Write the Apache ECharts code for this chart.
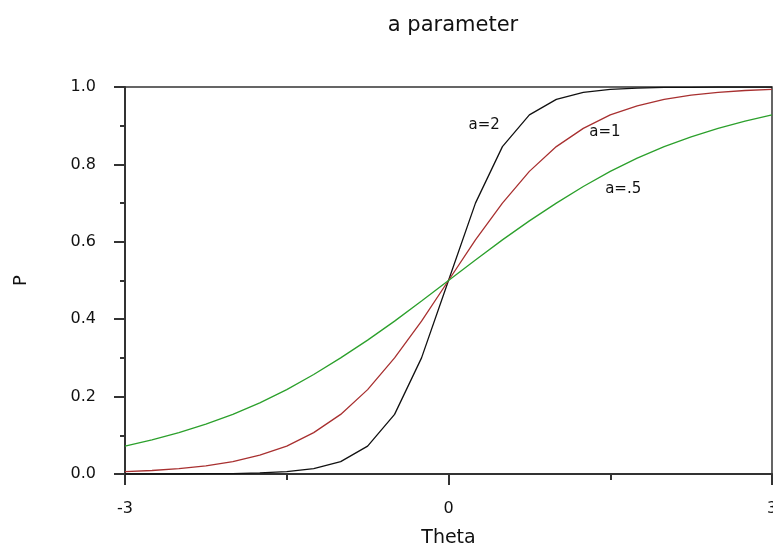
<!DOCTYPE html>
<html lang="en">
<head>
    <meta charset="UTF-8">
    <title>a parameter</title>
    <script type="text/javascript" src="https://cdn.jsdelivr.net/npm/echarts@6/dist/echarts.min.js"></script>
    <style>
        html, body { margin: 0; padding: 0; background: #fff; }
    </style>
</head>
<body>
<div id="main" style="width:773px;height:550px;"></div>
</body>

<script>
    // theta grid and P values
    let theta = [-3, -2.75, -2.5, -2.25, -2, -1.75, -1.5, -1.25, -1, -0.75, -0.5, -0.25,
        0, 0.25, 0.5, 0.75, 1, 1.25, 1.5, 1.75, 2, 2.25, 2.5, 2.75, 3];
    let pA2 = [0.000, 0.000, 0.000, 0.001, 0.001, 0.003, 0.006, 0.014, 0.032, 0.072, 0.154, 0.300,
        0.500, 0.700, 0.846, 0.928, 0.968, 0.986, 0.994, 0.997, 0.999, 0.999, 1.000, 1.000, 1.000];
    let pA1 = [0.006, 0.009, 0.014, 0.021, 0.032, 0.049, 0.072, 0.107, 0.154, 0.218, 0.300, 0.395,
        0.500, 0.605, 0.700, 0.782, 0.846, 0.893, 0.928, 0.951, 0.968, 0.979, 0.986, 0.991, 0.994];
    let pA05 = [0.072, 0.088, 0.107, 0.129, 0.154, 0.184, 0.218, 0.257, 0.300, 0.346, 0.395, 0.447,
        0.500, 0.553, 0.605, 0.654, 0.700, 0.743, 0.782, 0.816, 0.846, 0.871, 0.893, 0.912, 0.928];
    let curveNames = ['a=2', 'a=1', 'a=.5'];
    let curveColors = ['#111111', '#a83030', '#2ca02c'];
    // where the curve labels sit, in data units
    let labelAt = [[0.33, 0.902], [1.45, 0.884], [1.62, 0.736]];

    function pairs(ys) {
        return theta.map((t, i) => [t, ys[i]]);
    }

    let myChart = echarts.init(document.getElementById('main'));
    let font = 'DejaVu Sans, Verdana, sans-serif';

    let series = [pA2, pA1, pA05].map((ys, k) => ({
        name: curveNames[k],
        type: 'line',
        data: pairs(ys),
        showSymbol: false,
        smooth: false,
        lineStyle: { color: curveColors[k], width: 1.3 },
        itemStyle: { color: curveColors[k] },
        markPoint: {
            symbol: 'circle',
            symbolSize: 0,
            data: [{ coord: labelAt[k] }],
            label: {
                show: true,
                position: 'inside',
                formatter: curveNames[k],
                color: '#111',
                fontFamily: font,
                fontSize: 15
            }
        }
    }));

    let option = {
        backgroundColor: '#fff',
        animation: false,
        title: {
            text: 'a parameter',
            left: 448,
            top: 10,
            textAlign: 'center',
            textStyle: { color: '#111', fontFamily: font, fontSize: 21, fontWeight: 'normal' }
        },
        grid: {
            left: 125, right: 1, top: 87, bottom: 76,
            containLabel: false,
            outerBoundsMode: 'none',
            show: true,
            borderColor: '#333',
            borderWidth: 1.5
        },
        xAxis: {
            type: 'value',
            min: -3, max: 3, interval: 3,
            name: 'Theta',
            nameLocation: 'middle',
            nameGap: 55,
            nameTextStyle: { color: '#111', fontFamily: font, fontSize: 19 },
            axisLine: { onZero: false, lineStyle: { color: '#333', width: 2 } },
            axisTick: { length: 11, lineStyle: { color: '#333', width: 2 } },
            minorTick: { show: true, splitNumber: 2, length: 6, lineStyle: { color: '#333', width: 2 } },
            axisLabel: { margin: 27, color: '#111', fontFamily: font, fontSize: 16, showMinLabel: true, showMaxLabel: true },
            splitLine: { show: false }
        },
        yAxis: {
            type: 'value',
            min: 0, max: 1, interval: 0.2,
            name: 'P',
            nameLocation: 'middle',
            nameGap: 95,
            nameTextStyle: { color: '#111', fontFamily: font, fontSize: 18 },
            axisLine: { onZero: false, lineStyle: { color: '#333', width: 2 } },
            axisTick: { length: 11, lineStyle: { color: '#333', width: 2 } },
            minorTick: { show: true, splitNumber: 2, length: 5, lineStyle: { color: '#333', width: 2 } },
            axisLabel: {
                margin: 29, color: '#111', fontFamily: font, fontSize: 16,
                formatter: v => v.toFixed(1)
            },
            splitLine: { show: false }
        },
        series: series
    };
    myChart.setOption(option);
</script>
</html>
